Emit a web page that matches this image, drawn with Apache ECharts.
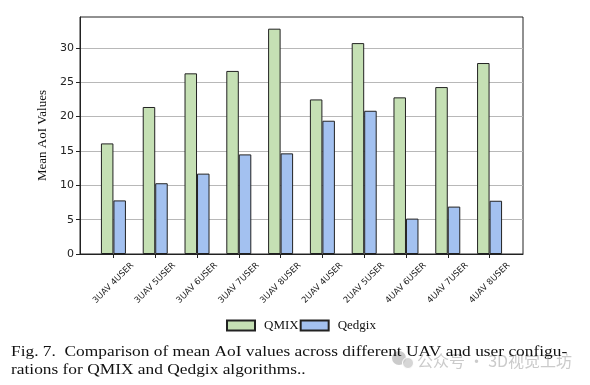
<!DOCTYPE html>
<html>
<head>
<meta charset="utf-8">
<script src="https://cdn.jsdelivr.net/npm/echarts@6/dist/echarts.min.js"></script>
<style>
html, body { margin: 0; padding: 0; background: #fff; }
#main { width: 590px; height: 385px; }
</style>
</head>
<body>
<div id="main"></div>
<script>
// configurations on the x axis
var configs = ['3UAV 4USER', '3UAV 5USER', '3UAV 6USER', '3UAV 7USER', '3UAV 8USER',
	'2UAV 4USER', '2UAV 5USER', '4UAV 6USER', '4UAV 7USER', '4UAV 8USER'];
var qmix = [16.1, 21.4, 26.3, 26.65, 32.8, 22.5, 30.7, 22.8, 24.3, 27.8];
var qedgix = [7.8, 10.3, 11.7, 14.5, 14.65, 19.4, 20.85, 5.15, 6.9, 7.75];
var yTicks = [0, 5, 10, 15, 20, 25, 30];
var xTicks = configs.map(function (c, i) { return i; });

var chart = echarts.init(document.getElementById('main'));

var option = {
	animation: false,
	backgroundColor: '#fff',
	grid: {
		left: 80,
		right: 67,
		top: 17,
		bottom: 131,
		show: true,
		borderColor: '#222',
		borderWidth: 1,
		backgroundColor: 'transparent'
	},
	legend: {
		left: 226,
		top: 319,
		padding: 0,
		itemWidth: 28,
		itemHeight: 10,
		itemGap: 1,
		icon: 'rect',
		data: ['QMIX', 'Qedgix'],
		textStyle: {
			fontFamily: 'Liberation Serif',
			fontSize: 13,
			color: '#111',
			padding: [0, 0, 0, 4]
		}
	},
	xAxis: {
		type: 'value',
		min: -0.8,
		max: 9.8,
		splitLine: { show: false },
		axisLine: { onZero: false, lineStyle: { color: '#222', width: 1 } },
		axisTick: {
			show: true,
			length: 4,
			customValues: xTicks,
			lineStyle: { color: '#222' }
		},
		axisLabel: {
			customValues: xTicks,
			rotate: 45,
			align: 'center',
			verticalAlign: 'middle',
			margin: 29,
			fontFamily: 'DejaVu Sans',
			fontSize: 8.5,
			color: '#222',
			formatter: function (v) {
				return configs[Math.round(v)] || '';
			}
		}
	},
	yAxis: {
		type: 'value',
		min: 0,
		max: 34.5,
		interval: 5,
		name: 'Mean AoI Values',
		nameLocation: 'middle',
		nameRotate: 90,
		nameGap: 27,
		nameTextStyle: {
			fontFamily: 'Liberation Serif',
			fontSize: 13,
			color: '#111'
		},
		axisLine: { show: true, onZero: false, lineStyle: { color: '#222', width: 1 } },
		axisTick: {
			show: true,
			length: 4,
			customValues: yTicks,
			lineStyle: { color: '#222' }
		},
		axisLabel: {
			customValues: yTicks,
			margin: 6,
			fontFamily: 'DejaVu Sans',
			fontSize: 11,
			color: '#222'
		},
		splitLine: { show: true, lineStyle: { color: '#b8b8b8', width: 1 } }
	},
	series: [
		{
			name: 'QMIX',
			type: 'bar',
			barWidth: 12.5,
			barGap: '0%',
			data: qmix.map(function (v, i) { return [i, v]; }),
			itemStyle: { color: '#c5e0b4', borderColor: '#222', borderWidth: 1 }
		},
		{
			name: 'Qedgix',
			type: 'bar',
			barWidth: 12.5,
			barGap: '0%',
			data: qedgix.map(function (v, i) { return [i, v]; }),
			itemStyle: { color: '#a3c1f0', borderColor: '#222', borderWidth: 1 }
		}
	],
	graphic: [
		// watermark (under the caption)
		{
			type: 'circle',
			shape: { cx: 399, cy: 358, r: 7 },
			style: { fill: 'rgba(185,185,185,0.75)' }
		},
		{
			type: 'circle',
			shape: { cx: 408, cy: 363, r: 5.5 },
			style: { fill: 'rgba(200,200,200,0.75)', stroke: '#fff', lineWidth: 1 }
		},
		{
			type: 'text',
			x: 417,
			y: 361,
			style: {
				text: '公众号 · 3D视觉工坊',
				fontFamily: 'Noto Sans CJK SC',
				fontSize: 16,
				verticalAlign: 'middle',
				fill: 'rgba(185,185,185,0.75)'
			}
		},
		// caption
		{
			type: 'text',
			x: 11,
			y: 352,
			scaleX: 1.12,
			style: {
				text: 'Fig. 7.  Comparison of mean AoI values across different UAV and user configu-',
				fontFamily: 'Liberation Serif',
				fontSize: 15.5,
				verticalAlign: 'middle',
				fill: '#111'
			}
		},
		{
			type: 'text',
			x: 11,
			y: 370,
			scaleX: 1.12,
			style: {
				text: 'rations for QMIX and Qedgix algorithms..',
				fontFamily: 'Liberation Serif',
				fontSize: 15.5,
				verticalAlign: 'middle',
				fill: '#111'
			}
		}
	]
};
chart.setOption(option);
</script>
</body>
</html>
